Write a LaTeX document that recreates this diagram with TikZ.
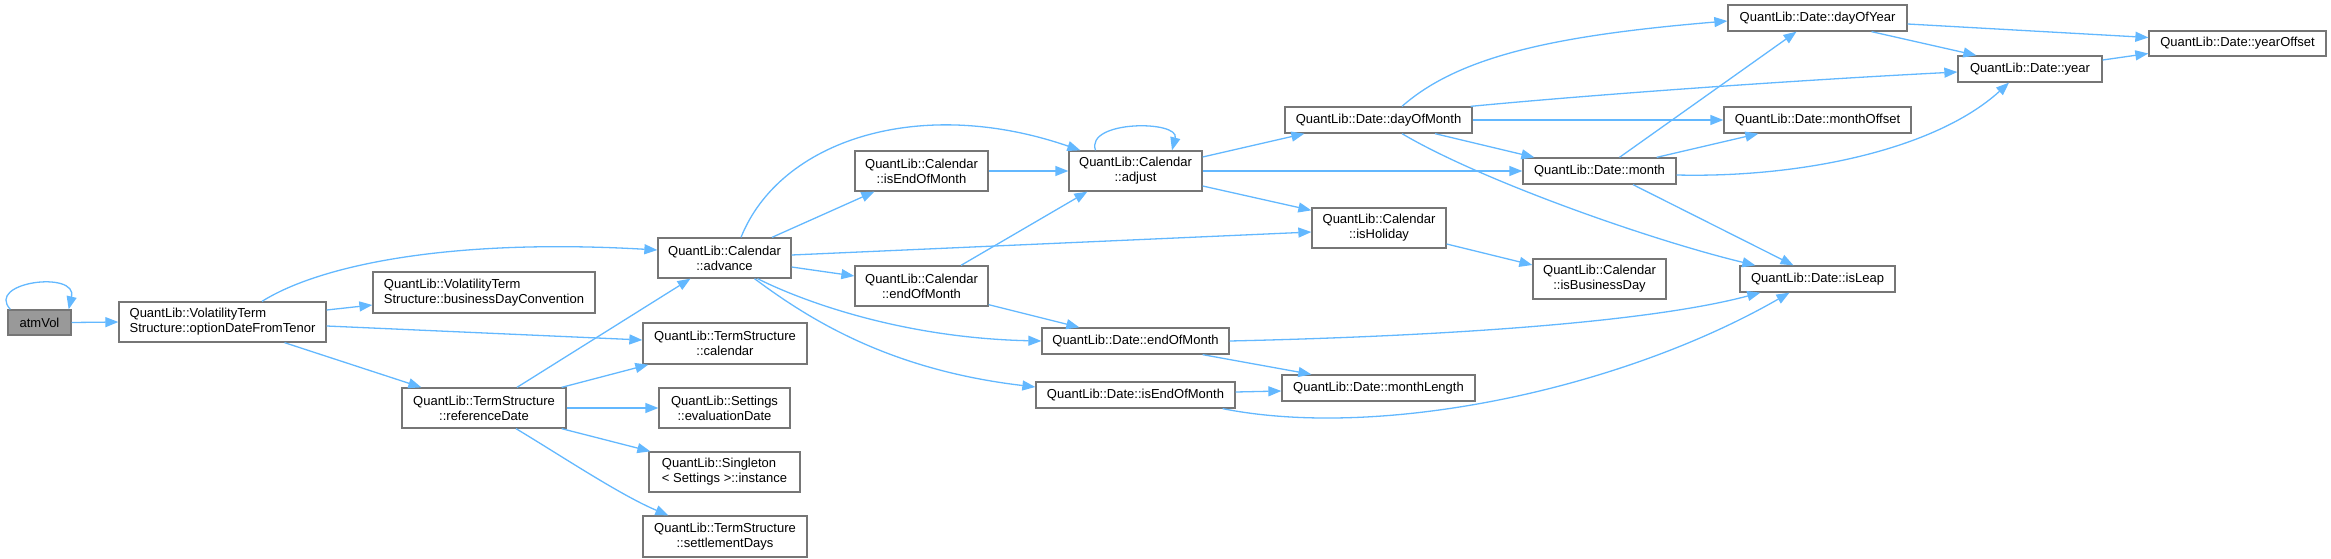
\documentclass[tikz,border=0pt]{standalone}
\usepackage{fontspec}
\setmainfont{Liberation Sans}
\usetikzlibrary{arrows.meta,calc}
\definecolor{edgec}{HTML}{63B8FF}
\definecolor{nborder}{HTML}{767676}
\definecolor{rootfill}{HTML}{999999}
\tikzset{
  box/.style={draw=nborder, line width=1.3pt, fill=white, inner sep=0pt,
    font=\fontsize{13}{15}\selectfont, align=center, text=black},
  lbox/.style={box, align=left},
  edge/.style={draw=edgec, line width=1.3pt, -{Triangle[length=13pt,width=10pt]}},
}
\begin{document}
\begin{tikzpicture}[x=1pt,y=-1pt]
\useasboundingbox (0,0) rectangle (2331,559);
% nodes
\node[box, fill=rootfill, minimum width=63pt, minimum height=25pt] (atmVol) at (39.5,322.5) {atmVol};
\node[lbox, minimum width=207pt, minimum height=40pt] (optDFT) at (222.5,322) {QuantLib::VolatilityTerm\\Structure::optionDateFromTenor};
\node[lbox, minimum width=222pt, minimum height=41pt] (bdc) at (484,292.5) {QuantLib::VolatilityTerm\\Structure::businessDayConvention};
\node[box, minimum width=164pt, minimum height=40pt] (refDate) at (484,408) {QuantLib::TermStructure\\::referenceDate};
\node[box, minimum width=133pt, minimum height=40pt] (advance) at (724.5,258) {QuantLib::Calendar\\::advance};
\node[box, minimum width=164pt, minimum height=41pt] (tscal) at (725,343.5) {QuantLib::TermStructure\\::calendar};
\node[box, minimum width=131pt, minimum height=40pt] (evalDate) at (724.5,408) {QuantLib::Settings\\::evaluationDate};
\node[lbox, minimum width=151pt, minimum height=40pt] (singleton) at (724.5,472) {QuantLib::Singleton\\< Settings >::instance};
\node[box, minimum width=164pt, minimum height=41pt] (settle) at (725,536.5) {QuantLib::TermStructure\\::settlementDays};
\node[box, minimum width=133pt, minimum height=40pt] (calIEOM) at (921.5,171) {QuantLib::Calendar\\::isEndOfMonth};
\node[box, minimum width=133pt, minimum height=40pt] (adjust) at (1135.5,171) {QuantLib::Calendar\\::adjust};
\node[box, minimum width=133pt, minimum height=40pt] (calEOM) at (921.5,286) {QuantLib::Calendar\\::endOfMonth};
\node[box, minimum width=187pt, minimum height=26pt] (dEOM) at (1135.5,341) {QuantLib::Date::endOfMonth};
\node[box, minimum width=199pt, minimum height=26pt] (dIEOM) at (1135.5,395) {QuantLib::Date::isEndOfMonth};
\node[box, minimum width=187pt, minimum height=26pt] (dayOfMonth) at (1378.5,120) {QuantLib::Date::dayOfMonth};
\node[box, minimum width=134pt, minimum height=40pt] (isHoliday) at (1379,228) {QuantLib::Calendar\\::isHoliday};
\node[box, minimum width=193pt, minimum height=26pt] (monthLength) at (1378.5,388) {QuantLib::Date::monthLength};
\node[box, minimum width=153pt, minimum height=26pt] (month) at (1599.5,171) {QuantLib::Date::month};
\node[box, minimum width=133pt, minimum height=40pt] (isBusinessDay) at (1599.5,279) {QuantLib::Calendar\\::isBusinessDay};
\node[box, minimum width=179pt, minimum height=26pt] (dayOfYear) at (1817.5,18) {QuantLib::Date::dayOfYear};
\node[box, minimum width=187pt, minimum height=26pt] (monthOffset) at (1817.5,120) {QuantLib::Date::monthOffset};
\node[box, minimum width=155pt, minimum height=26pt] (isLeap) at (1817.5,279) {QuantLib::Date::isLeap};
\node[box, minimum width=144pt, minimum height=26pt] (year) at (2030,69) {QuantLib::Date::year};
\node[box, minimum width=177pt, minimum height=25pt] (yearOffset) at (2237.5,43.5) {QuantLib::Date::yearOffset};
% edges
\draw[edge] ($(atmVol.north west)+(3,0)$) .. controls (-15,282) and (78,270) .. ($(atmVol.north east)+(-3,0)$);
\draw[edge] (atmVol.east) -- (optDFT.west);
\draw[edge] ($(optDFT.north)+(39.5,0)$) .. controls (320,265) and (450,238) .. ($(advance.west)+(0,-8)$);
\draw[edge] ($(optDFT.east)+(0,-12)$) -- ($(bdc.west)+(0,12.5)$);
\draw[edge] ($(optDFT.east)+(0,4)$) -- ($(tscal.west)+(0,-3.5)$);
\draw[edge] ($(optDFT.south)+(62,0)$) -- ($(refDate.north west)+(20,0)$);
\draw[edge] ($(refDate.north)+(33,0)$) -- ($(advance.south)+(-34,0)$);
\draw[edge] ($(refDate.north east)+(-5,0)$) -- ($(tscal.south west)+(6,0)$);
\draw[edge] (refDate.east) -- (evalDate.west);
\draw[edge] ($(refDate.south east)+(-5,0)$) -- ($(singleton.north west)+(2,0)$);
\draw[edge] ($(refDate.south)+(32,0)$) .. controls (560,455) and (620,495) .. ($(settle.north west)+(26,0)$);
\draw[edge] ($(advance.north)+(16.5,0)$) .. controls (780,140) and (920,95) .. ($(adjust.north west)+(12,0)$);
\draw[edge] ($(advance.north)+(47.5,0)$) -- ($(calIEOM.south west)+(20,0)$);
\draw[edge] ($(advance.east)+(0,-3)$) -- ($(isHoliday.west)+(0,4)$);
\draw[edge] ($(advance.east)+(0,9)$) -- ($(calEOM.west)+(0,-10)$);
\draw[edge] ($(advance.south)+(33,0)$) .. controls (800,300) and (900,338) .. (dEOM.west);
\draw[edge] ($(advance.south)+(30,0)$) .. controls (810,320) and (890,370) .. ($(dIEOM.west)+(0,-8)$);
\draw[edge] (calIEOM.east) -- (adjust.west);
\draw[edge] ($(calEOM.north)+(39.5,0)$) -- ($(adjust.south west)+(19,0)$);
\draw[edge] ($(calEOM.south east)+(0,-2)$) -- ($(dEOM.north west)+(38,0)$);
\draw[edge] ($(adjust.north)+(-40,0)$) .. controls (1085,120) and (1180,120) .. ($(adjust.north)+(36.5,0)$);
\draw[edge] ($(adjust.east)+(0,-14)$) -- ($(dayOfMonth.south west)+(20,0)$);
\draw[edge] (adjust.east) -- (month.west);
\draw[edge] ($(adjust.east)+(0,15)$) -- ($(isHoliday.north west)+(0,3)$);
\draw[edge] (dEOM.east) .. controls (1450,336) and (1650,322) .. ($(isLeap.south west)+(21,0)$);
\draw[edge] ($(dEOM.south east)+(-27,0)$) -- ($(monthLength.north west)+(30,0)$);
\draw[edge] ($(dIEOM.east)+(0,-3)$) -- ($(monthLength.west)+(0,3)$);
\draw[edge] ($(dIEOM.south east)+(-13,0)$) .. controls (1380,440) and (1620,390) .. ($(isLeap.south)+(-28,0)$);
\draw[edge] ($(isHoliday.east)+(0,16)$) -- ($(isBusinessDay.west)+(0,-14)$);
\draw[edge] ($(dayOfMonth.north)+(23.5,0)$) .. controls (1460,55) and (1560,35) .. ($(dayOfYear.west)+(0,3)$);
\draw[edge] ($(dayOfMonth.north east)+(-2,0)$) .. controls (1600,94) and (1800,80) .. ($(year.west)+(0,3)$);
\draw[edge] (dayOfMonth.east) -- (monthOffset.west);
\draw[edge] ($(dayOfMonth.south)+(56.5,0)$) -- ($(month.north west)+(12,0)$);
\draw[edge] ($(dayOfMonth.south)+(23.5,0)$) .. controls (1480,180) and (1650,240) .. ($(isLeap.north west)+(16,0)$);
\draw[edge] ($(month.north)+(20,0)$) -- ($(dayOfYear.south)+(-21,0)$);
\draw[edge] ($(month.north east)+(-20,0)$) -- ($(monthOffset.south west)+(35,0)$);
\draw[edge] ($(month.east)+(0,4)$) .. controls (1800,178) and (1935,150) .. ($(year.south)+(-21,0)$);
\draw[edge] ($(month.south)+(33.5,0)$) -- ($(isLeap.north)+(-24,0)$);
\draw[edge] ($(dayOfYear.east)+(0,6)$) -- ($(yearOffset.west)+(0,-6)$);
\draw[edge] ($(dayOfYear.south)+(54,0)$) -- ($(year.north west)+(19,0)$);
\draw[edge] ($(year.east)+(0,-9)$) -- ($(yearOffset.west)+(0,10)$);
\end{tikzpicture}
\end{document}
